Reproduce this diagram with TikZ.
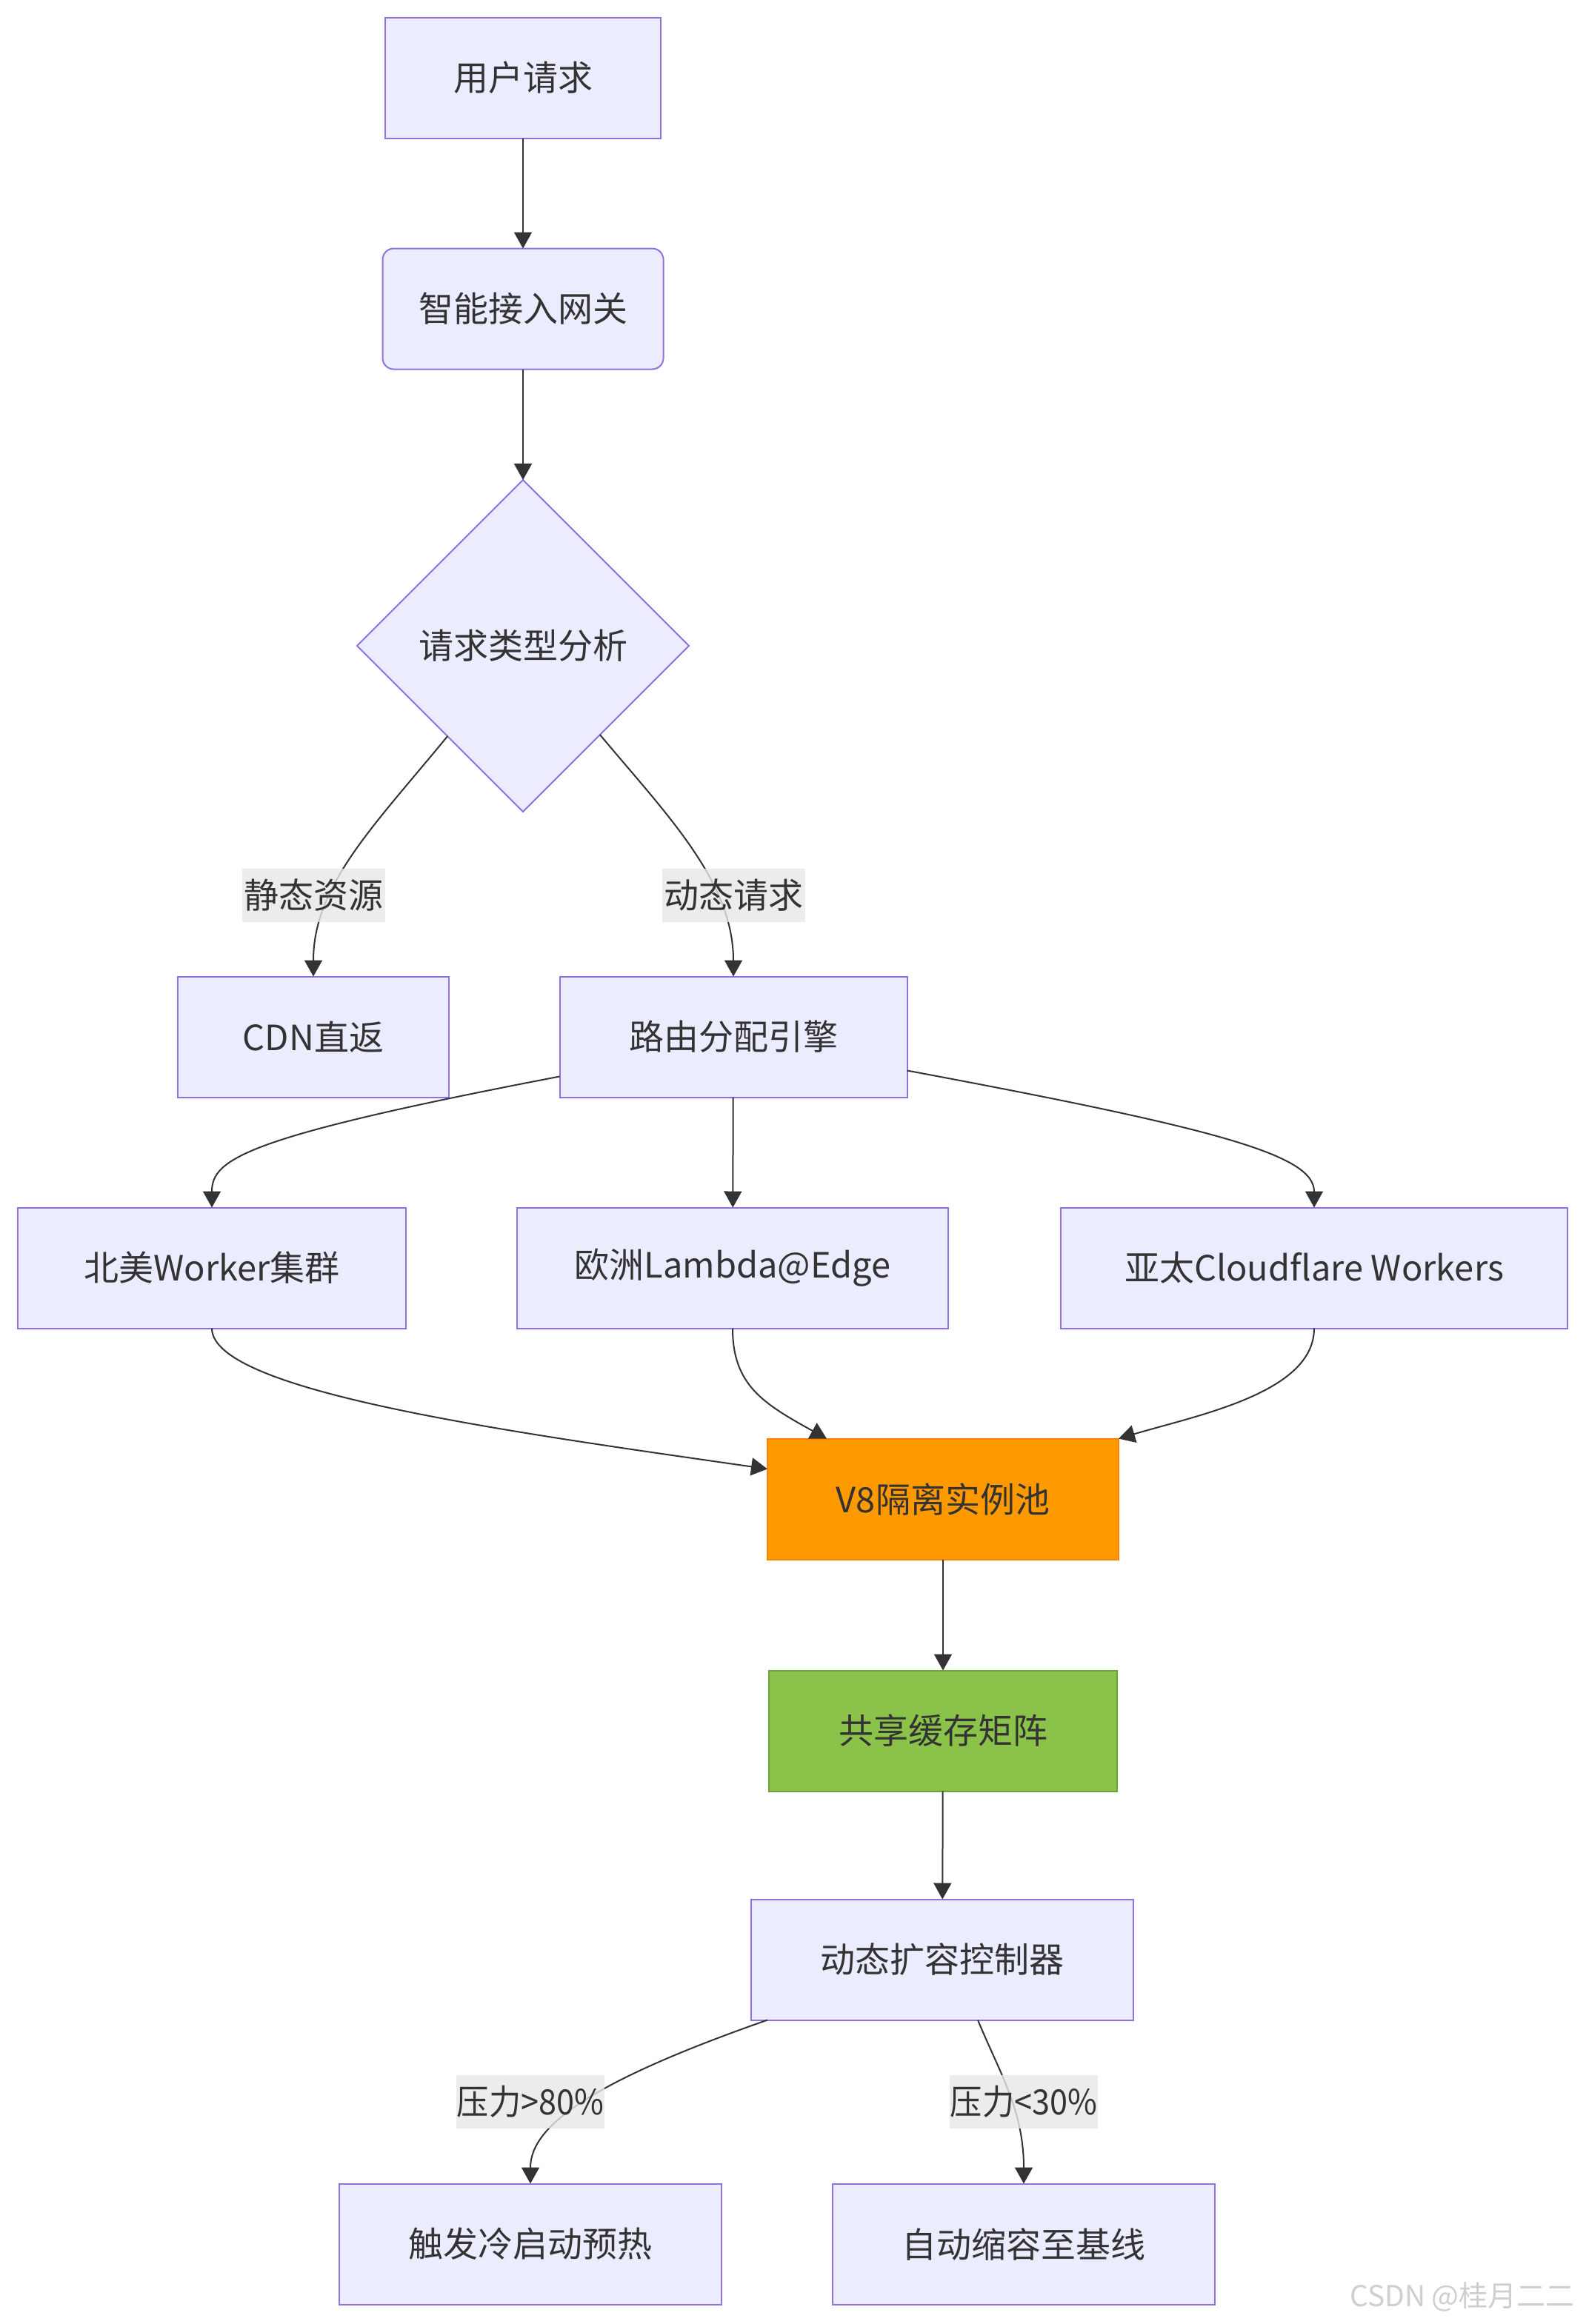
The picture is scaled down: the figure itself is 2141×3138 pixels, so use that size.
\documentclass[tikz,border=0pt]{standalone}
\usepackage{fontspec}
\setmainfont{Noto Sans CJK SC}
\usetikzlibrary{shapes.geometric,arrows.meta,calc}
\definecolor{nodefill}{HTML}{ECECFF}
\definecolor{nodeline}{HTML}{9370DB}
\definecolor{edgecol}{HTML}{333333}
\definecolor{lblbg}{HTML}{E8E8E8}
\definecolor{orangefill}{HTML}{FF9900}
\definecolor{orangeline}{HTML}{FF8000}
\definecolor{greenfill}{HTML}{8BC34A}
\definecolor{greenline}{HTML}{6FA33A}
\definecolor{wmcol}{HTML}{CFCFCF}
\begin{document}
\begin{tikzpicture}[x=0.5pt,y=-0.5pt,
  txt/.style={text=edgecol, font=\fontsize{23.5pt}{28pt}\selectfont},
  box/.style={txt, draw=nodeline, fill=nodefill, line width=1pt, minimum height=81.5pt, inner sep=0pt, outer sep=0pt},
  rbox/.style={box, rounded corners=7.5pt},
  dbox/.style={txt, diamond, draw=nodeline, fill=nodefill, line width=1pt, minimum width=224pt, minimum height=224pt, inner sep=0pt, outer sep=0pt},
  obox/.style={box, draw=orangeline, fill=orangefill},
  gbox/.style={box, draw=greenline, fill=greenfill},
  lbl/.style={txt, fill=lblbg, fill opacity=0.8, text opacity=1, inner sep=0pt, minimum height=36pt},
  arr/.style={draw=edgecol, line width=1pt, -{Triangle[length=11pt,width=12pt]}}
]
\fill[white] (0,0) rectangle (2141,3138);
\useasboundingbox (0,0) rectangle (2141,3138);

% nodes
\node[box, minimum width=186pt] (u) at (706,105) {用户请求};
\node[rbox, minimum width=189.5pt] (g) at (706,417) {智能接入网关};
\node[dbox] (dia) at (706,872) {请求类型分析};
\node[box, minimum width=183pt] (cdn) at (423,1400) {CDN直返};
\node[box, minimum width=234.5pt] (r) at (990,1400) {路由分配引擎};
\node[box, minimum width=262pt] (na) at (286,1712) {北美Worker集群};
\node[box, minimum width=291pt] (eu) at (989,1712) {欧洲Lambda@Edge};
\node[box, minimum width=342pt] (ap) at (1774,1712) {亚太Cloudflare Workers};
\node[obox, minimum width=237pt] (v) at (1273,2024) {V8隔离实例池};
\node[gbox, minimum width=235pt] (c) at (1273,2337) {共享缓存矩阵};
\node[box, minimum width=258pt] (k) at (1272,2646) {动态扩容控制器};
\node[box, minimum width=258pt] (hot) at (716,3030) {触发冷启动预热};
\node[box, minimum width=258pt] (dn) at (1382,3030) {自动缩容至基线};

% straight edges
\draw[arr] (u) -- (g);
\draw[arr] (g) -- (dia);
\draw[arr] (r) -- (eu);
\draw[arr] (v) -- (c);
\draw[arr] (c) -- (k);

% diamond branches
\coordinate (dL) at ($(dia.west)!0.545!(dia.south)$);
\coordinate (dR) at ($(dia.east)!0.536!(dia.south)$);
\draw[arr] (dL) .. controls (505,1115) and (423,1195) .. (cdn.north);
\draw[arr] (dR) .. controls (900,1100) and (990,1190) .. (r.north);

% route fan-out
\coordinate (rL) at ($(r.south west)+(0,-28)$);
\coordinate (rR) at ($(r.south east)+(0,-36)$);
\draw[arr] (rL) .. controls (330,1535) and (286,1565) .. (na.north);
\draw[arr] (rR) .. controls (1650,1525) and (1774,1560) .. (ap.north);

% into V8
\coordinate (vL) at ($(v.north west)+(0,41)$);
\coordinate (vT) at ($(v.north west)+(80,0)$);
\draw[arr] (na.south) .. controls (286,1880) and (700,1935) .. (vL);
\draw[arr] (eu.south) .. controls (989,1870) and (1030,1895) .. (vT);
\draw[arr] (ap.south) .. controls (1774,1880) and (1620,1910) .. (v.north east);

% scaling branches
\coordinate (kL) at ($(k.south west)+(22,0)$);
\coordinate (kR) at ($(k.south)+(48,0)$);
\draw[arr] (kL) .. controls (800,2810) and (716,2870) .. (hot.north);
\draw[arr] (kR) .. controls (1350,2800) and (1382,2850) .. (dn.north);

% edge labels
\node[lbl, minimum width=96.5pt] (l1) at (423,1209) {静态资源};
\node[lbl, minimum width=96.5pt] (l2) at (990,1209) {动态请求};
\node[lbl, minimum width=100pt] (l3) at (716,2838) {\scalebox{0.92}[1]{压力>80\%}};
\node[lbl, minimum width=100pt] (l4) at (1382,2838) {\scalebox{0.92}[1]{压力<30\%}};

% watermark
\node[text=wmcol, font=\fontsize{19.5pt}{22pt}\selectfont, inner sep=0pt] (wm) at (1974,3101) {CSDN @桂月二二};
\end{tikzpicture}
\end{document}
